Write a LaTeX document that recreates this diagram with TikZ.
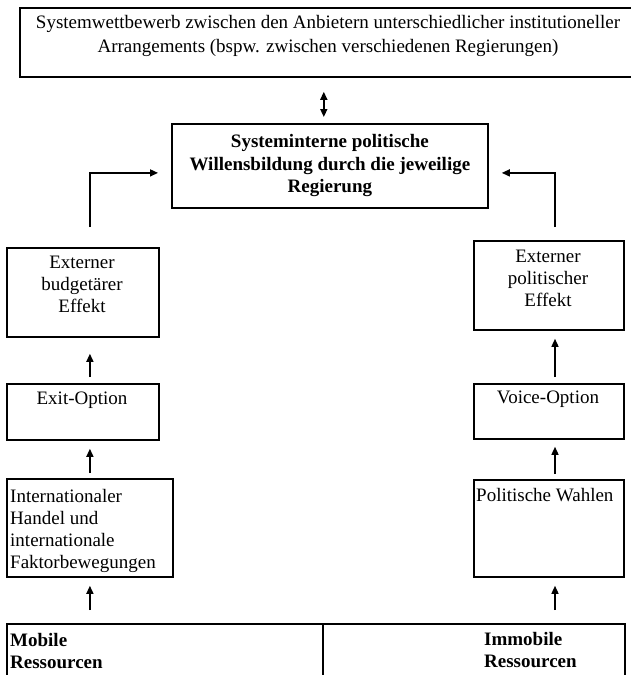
\documentclass[tikz,border=0pt]{standalone}
\usepackage{fontspec}
\setmainfont{Liberation Serif}
\usetikzlibrary{arrows.meta}

\tikzset{
  kasten/.style={draw, line width=1.8pt, inner sep=0pt, anchor=north west},
  schrift/.style={font=\fontsize{19}{22}\selectfont, inner sep=0pt, align=center},
  fett/.style={font=\fontsize{19}{22.5}\selectfont\bfseries, inner sep=0pt, align=center},
  pfeil/.style={line width=1.5pt, -{Triangle[length=8pt,width=7pt]}},
  doppelpfeil/.style={line width=1.5pt, {Triangle[length=8pt,width=7pt]}-{Triangle[length=8pt,width=7pt]}},
}

\begin{document}
\begin{tikzpicture}[x=1pt,y=-1pt]

    \useasboundingbox (0,0) rectangle (631,675);

    % Kasten oben: Systemwettbewerb
    \node[kasten, minimum width=613, minimum height=69] (system) at (19,7) {};
    \node[schrift, font=\fontsize{19}{24}\selectfont, anchor=north] (systemtext) at (328,15)
        {Systemwettbewerb zwischen den Anbietern unterschiedlicher institutioneller\\Arrangements (bspw. zwischen verschiedenen Regierungen)};

    % Regierung
    \node[kasten, minimum width=316, minimum height=84] (regierung) at (171,123) {};
    \node[fett] (regierungtext) at (regierung.center)
        {Systeminterne politische\\Willensbildung durch die jeweilige\\Regierung};

    % linke Spalte
    \node[kasten, minimum width=152, minimum height=89] (budget) at (6,247) {};
    \node[schrift, anchor=north] (budgettext) at (82,256) {Externer\\budgetärer\\Effekt};

    \node[kasten, minimum width=152, minimum height=56] (exit) at (6,383) {};
    \node[schrift, anchor=north] (exittext) at (82,392) {Exit-Option};

    \node[kasten, minimum width=166, minimum height=98] (handel) at (6,478) {};
    \node[schrift, align=left, anchor=north west] (handeltext) at (10,489)
        {Internationaler\\Handel und\\internationale\\Faktorbewegungen};

    % rechte Spalte
    \node[kasten, minimum width=150, minimum height=89] (polit) at (473,240) {};
    \node[schrift, anchor=north] (polittext) at (548,250) {Externer\\politischer\\Effekt};

    \node[kasten, minimum width=150, minimum height=55] (voice) at (473,383) {};
    \node[schrift, anchor=north] (voicetext) at (548,391) {Voice-Option};

    \node[kasten, minimum width=150, minimum height=97] (wahlen) at (473,479) {};
    \node[schrift, align=left, anchor=north west] (wahlentext) at (476,488) {Politische Wahlen};

    % Ressourcen unten
    \node[kasten, minimum width=316, minimum height=70] (mobil) at (6,623) {};
    \node[kasten, minimum width=302, minimum height=70] (immobil) at (322,623) {};
    \node[fett, align=left, anchor=north west] (mobiltext) at (10,633) {Mobile\\Ressourcen};
    \node[fett, align=left, anchor=north west] (immobiltext) at (484,632) {Immobile\\Ressourcen};

    % Pfeile
    \coordinate (rechts) at (555,0);

    \draw[doppelpfeil, shorten <=14pt, shorten >=6pt] (system.south -| mobil.east) -- (regierung.north -| mobil.east);

    \draw[pfeil, shorten >=13pt] ([yshift=20pt]budget.north -| handel.north) |- ([yshift=-7pt]regierung.west);
    \draw[pfeil, shorten >=13pt] ([yshift=13pt]polit.north -| rechts) |- ([yshift=-7pt]regierung.east);

    \draw[pfeil, shorten <=6pt, shorten >=16pt] (exit.north -| handel.north) -- (budget.south -| handel.north);
    \draw[pfeil, shorten <=5pt, shorten >=8pt] (handel.north) -- (exit.south -| handel.north);
    \draw[pfeil, shorten <=13pt, shorten >=8pt] (mobil.north -| handel.north) -- (handel.south);

    \draw[pfeil, shorten <=6pt, shorten >=8pt] (voice.north -| rechts) -- (polit.south -| rechts);
    \draw[pfeil, shorten <=5pt, shorten >=7pt] (wahlen.north -| rechts) -- (voice.south -| rechts);
    \draw[pfeil, shorten <=13pt, shorten >=8pt] (immobil.north -| rechts) -- (wahlen.south -| rechts);

\end{tikzpicture}
\end{document}
